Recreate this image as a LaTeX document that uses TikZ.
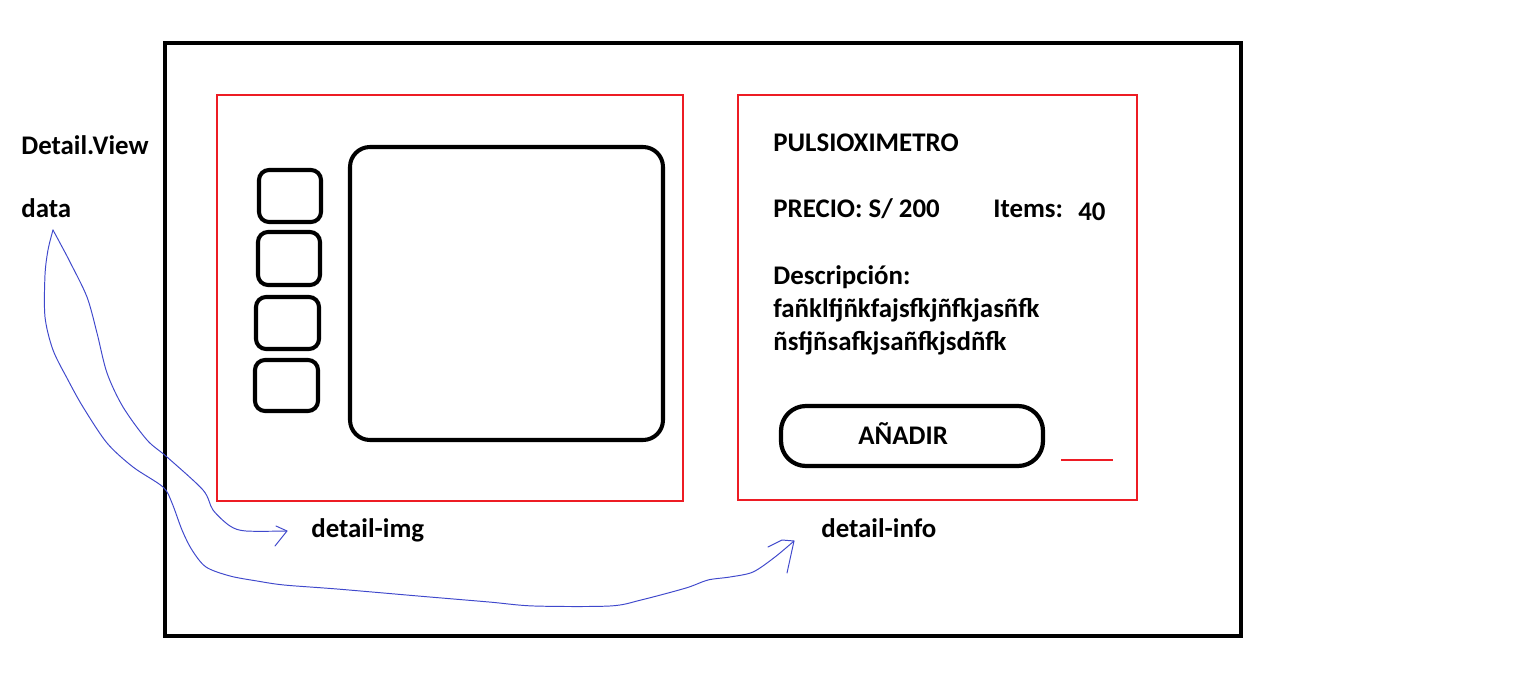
\documentclass[tikz,border=0pt]{standalone}
\usepackage{fontspec}
\setmainfont{Carlito}
\definecolor{paintred}{RGB}{237,28,36}
\definecolor{handblue}{RGB}{63,72,204}
\begin{document}
\begin{tikzpicture}[x=0.02cm,y=-0.02cm,
  lbl/.style={font=\fontsize{15.3}{18}\selectfont\bfseries, anchor=base west, inner sep=0pt},
  frame/.style={draw=black, line width=2.3pt},
  redbox/.style={draw=paintred, line width=0.7pt},
  thumb/.style={draw=black, line width=2.3pt, rounded corners=0.2cm},
  bigimg/.style={draw=black, line width=2.3pt, rounded corners=0.4cm},
  btn/.style={draw=black, line width=2.4pt, rounded corners=0.5cm},
  hand/.style={draw=handblue, line width=0.55pt, line join=round, line cap=round},
]
\useasboundingbox (0,0) rectangle (1524,695);
\fill[white] (0,0) rectangle (1524,695);

% outer view frame
\draw[frame] (165,43) rectangle (1241,636);

% red containers
\draw[redbox] (217,95) rectangle (683,501);
\draw[redbox] (738,95) rectangle (1137,500);

% image area
\draw[bigimg] (350,147) rectangle (663,440);
\draw[thumb] (259,170) rectangle (321,222);
\draw[thumb] (258,232) rectangle (320,285);
\draw[thumb] (256,297) rectangle (319,349);
\draw[thumb] (255,360) rectangle (318,411);

% button
\draw[btn] (781,406) rectangle (1043,466);
\draw[draw=paintred, line width=1.3pt] (1061,460) -- (1113,460);

% texts
\node[lbl] (title) at (21,155) {Detail.View};
\node[lbl] (data) at (21,218) {data};
\node[lbl] (pname) at (773,152) {PULSIOXIMETRO};
\node[lbl] (price) at (773,218) {PRECIO: S/ 200};
\node[lbl] (items) at (993,218) {Items:};
\node[lbl] (qty) at (1078,221) {40};
\node[lbl] (desc) at (773,285) {Descripción:};
\node[lbl] (dlineA) at (773,318) {fañklfjñkfajsfkjñfkjasñfk};
\node[lbl] (dlineB) at (773,351) {ñsfjñsafkjsañfkjsdñfk};
\node[lbl] (add) at (858,445) {AÑADIR};
\node[lbl] (dimg) at (311,537) {detail-img};
\node[lbl] (dinfo) at (821,537) {detail-info};

% hand-drawn connectors
\coordinate (src) at (53,230);
\coordinate (tipimg) at (287,531);
\coordinate (tipinfo) at (794,541);

\draw[hand] plot[smooth, tension=0.5] coordinates {(src) (60,243) (70,262) (87,297) (97,333) (107,373) (123,407) (147,440) (167,457) (203,490) (213,510) (230,526) (246,531) (tipimg)};
\draw[hand] (276,526) -- (tipimg) -- (275,546);

\draw[hand] plot[smooth, tension=0.5] coordinates {(src) (48,250) (45,275) (45,317) (53,350) (68,380) (83,407) (107,443) (133,467) (163,487) (172,503) (182,530) (192,550) (206,567) (230,576) (257,581) (284,585) (337,589) (418,596) (489,602) (534,606) (610,606) (641,600) (686,588) (708,580) (730,577) (753,572) (775,557) (tipinfo)};
\draw[hand] (768,547) -- (782,540) -- (tipinfo) -- (787,573);
\end{tikzpicture}
\end{document}
